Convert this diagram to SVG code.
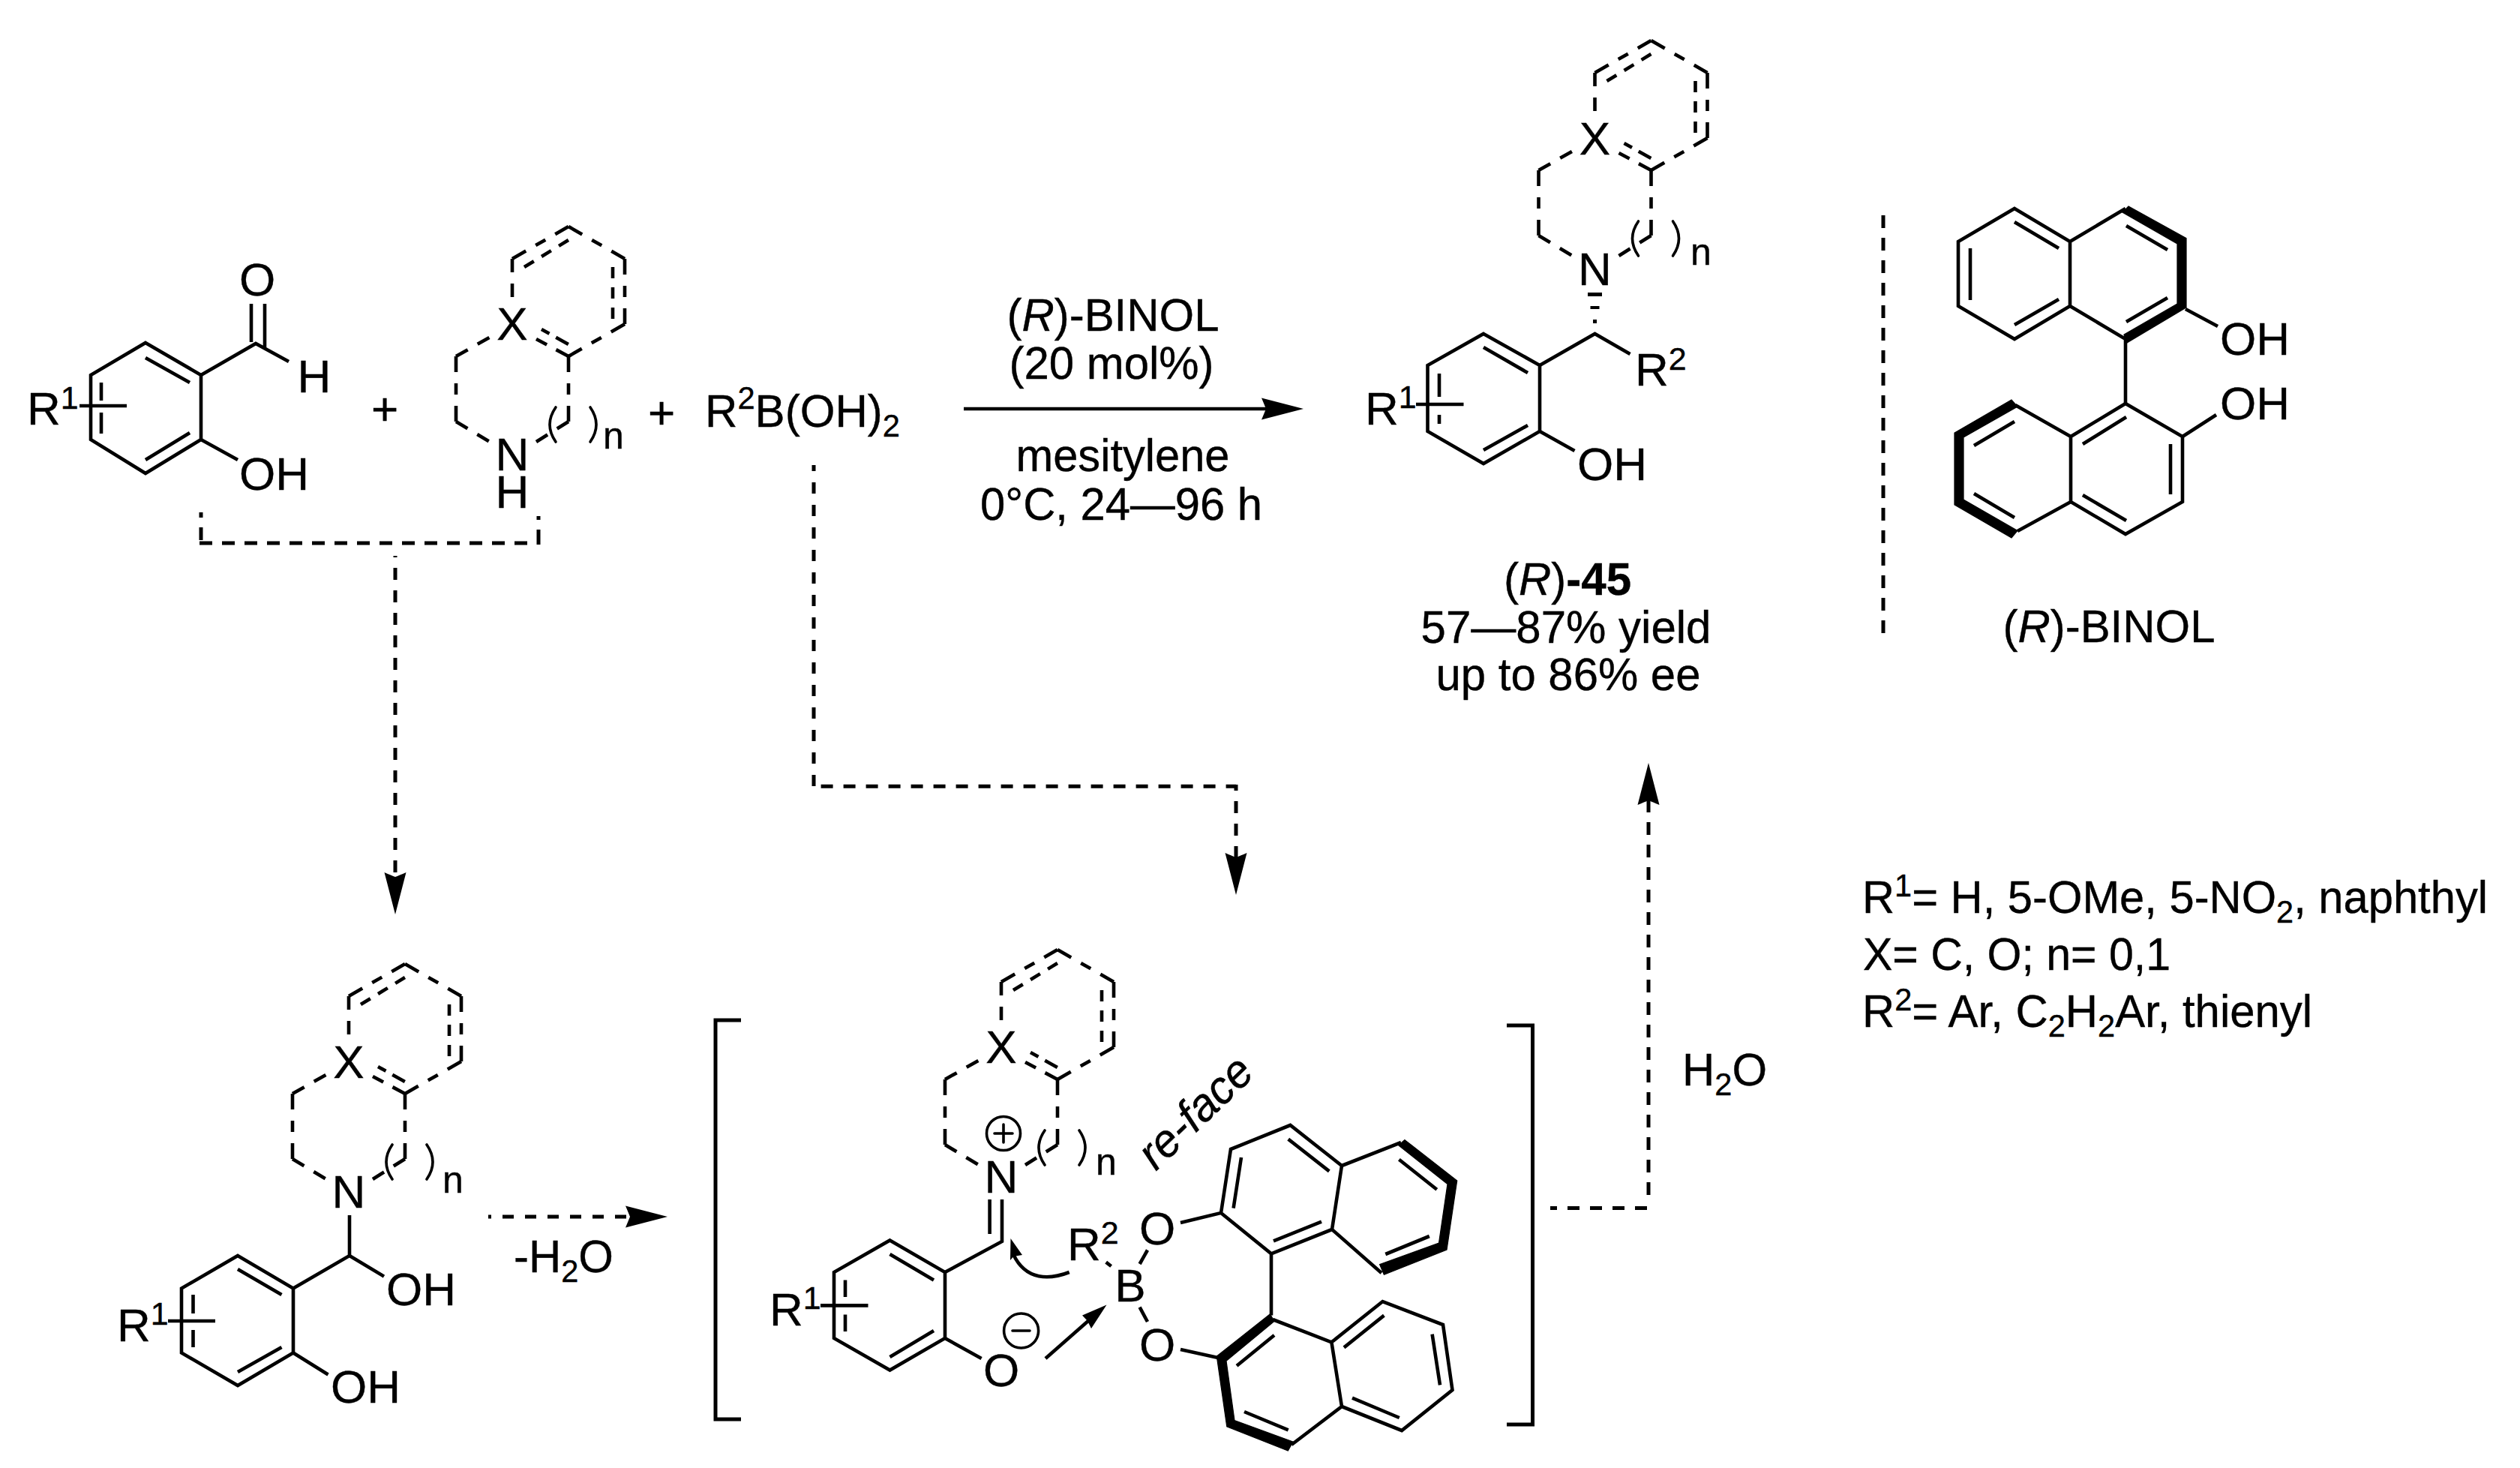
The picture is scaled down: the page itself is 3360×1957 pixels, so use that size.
<svg xmlns="http://www.w3.org/2000/svg" xmlns:xlink="http://www.w3.org/1999/xlink" width="3360" height="1957" viewBox="0 0 3360 1957">
<style>
text{font-family:"Liberation Sans",Arial,sans-serif;font-size:62px;fill:#000;stroke:#000;stroke-width:.4}
.m{text-anchor:middle}
.s{font-size:43px}
.n{font-size:50px}
.i{font-style:italic}
.h{font-weight:bold}
.b{fill:none;stroke:#000;stroke-width:4.6;stroke-linejoin:miter}
.p{fill:none;stroke:#000;stroke-width:3.6;stroke-linecap:round}
.f{fill:#000;stroke:none}
.w{fill:#000;stroke:#000;stroke-width:1.2}
.d3{stroke-dasharray:21 15 15 15 21}
.d2{stroke-dasharray:18 15 18}
.di{stroke-dasharray:15 12 15 12 15}
.c{fill:none;stroke:#000;stroke-width:5}
</style>
<defs>
<marker id="ah" markerUnits="userSpaceOnUse" markerWidth="60" markerHeight="30" refX="6" refY="15" orient="auto" overflow="visible">
<path d="M56,15 L0,0.5 Q4,10 6,15 Q4,20 0,29.5 Z" fill="#000"/>
</marker>
<g id="core">
<path class="b d3" d="M0,-87 L75,-130"/>
<path class="b d3" d="M75,-130 L150,-87"/>
<path class="b d3" d="M150,-87 V0"/>
<path class="b d3" d="M150,0 L75,43"/>
<path class="b d3" d="M75,43 V130"/>
<path class="b d3" d="M-75,43 V130"/>
<path class="b d2" d="M0,-87 V-30"/>
<path class="b d2" d="M-75,43 L-29,17"/>
<path class="b d2" d="M-75,130 L-30,157"/>
<path class="b d2" d="M75,130 L32,157"/>
<path class="b" style="stroke-dasharray:16 14 19" d="M32,20 L75,43"/>
<path class="b" style="stroke-dasharray:12 10 19" d="M39,7 L75,27"/>
<path class="b di" d="M16,-76 L75,-112"/>
<path class="b di" d="M134,-76 V-7"/>
<path class="p" d="M58,111 Q42,134 58,157"/>
<path class="p" d="M104,111 Q120,134 104,157"/>
</g>
</defs>

<g id="connectors">
<path class="b" style="stroke-width:4.4" d="M1285,545 H1688" marker-end="url(#ah)"/>
<path class="c" style="stroke-dasharray:17 13;stroke-dashoffset:10" d="M268,683 V724"/>
<path class="c" style="stroke-dasharray:17 13" d="M266,724 H716"/>
<path class="c" style="stroke-dasharray:20 13 7" d="M718,726 V688"/>
<path class="c" style="stroke-dasharray:16 14;stroke-dashoffset:14" d="M527,741 V1169" marker-end="url(#ah)"/>
<path class="c" style="stroke-dasharray:15 15" d="M1085,1048 V620"/>
<path class="c" style="stroke-dasharray:16 14" d="M1094.6,1048.3 H1648"/>
<path class="c" style="stroke-dasharray:8 14 16 14 16 14 30" d="M1648,1046 V1143" marker-end="url(#ah)"/>
<path class="c" style="stroke-dasharray:15 15;stroke-dashoffset:11" d="M651,1622 H840" marker-end="url(#ah)"/>
<path class="c" style="stroke-dasharray:16 14;stroke-dashoffset:7" d="M2067,1610.4 H2198"/>
<path class="c" style="stroke-dasharray:17 13" d="M2198,1593 V1067" marker-end="url(#ah)"/>
</g>

<g id="salicylaldehyde">
<path class="b" d="M194,457 L268,500 V586 L194,631 L121,586 V500 Z"/>
<path class="b" d="M194,477 L253,510 M253,577 L194,613 M135,510 V534 M135,550 V578"/>
<path class="b" d="M106,541 H169 M268,500 L341,458 L385,482 M335,405 V456 M353,405 V464 M268,586 L317,613"/>
<text x="343" y="394" class="m">O</text>
<text x="419" y="523" class="m">H</text>
<text x="319" y="653">OH</text>
<text x="36" y="566">R<tspan class="s" dy="-21">1</tspan></text>
</g>
<g id="plus-1"><text x="513" y="566" class="m">+</text></g>

<g id="amine">
<use xlink:href="#core" href="#core" transform="translate(683,432)"/>
<text x="683" y="453" class="m">X</text>
<text x="683" y="627" class="m">N<tspan x="683" dy="50">H</tspan></text>
<text x="804" y="598" class="n">n</text>
</g>
<g id="plus-2"><text x="882" y="571" class="m">+</text></g>

<g id="boronic-acid">
<text x="940" y="569" textLength="260" lengthAdjust="spacingAndGlyphs">R<tspan class="s" dy="-24">2</tspan><tspan dy="24">B(OH)</tspan><tspan class="s" dy="13">2</tspan></text>
</g>

<g id="conditions">
<text x="1484" y="441" class="m" textLength="283" lengthAdjust="spacingAndGlyphs">(<tspan class="i">R</tspan>)-BINOL</text>
<text x="1482" y="505" class="m" textLength="273" lengthAdjust="spacingAndGlyphs">(20 mol%)</text>
<text x="1497" y="628" class="m" textLength="285" lengthAdjust="spacingAndGlyphs">mesitylene</text>
<text x="1495" y="693" class="m" textLength="376" lengthAdjust="spacingAndGlyphs">0°C, 24—96 h</text>
</g>

<g id="product">
<use xlink:href="#core" href="#core" transform="translate(2126.5,184)"/>
<text x="2126.5" y="206" class="m">X</text>
<text x="2126.5" y="380" class="m">N</text>
<text x="2254" y="353" class="n">n</text>
<path class="f" d="M2117,390 H2136 V395 H2117 Z M2120.5,408 H2132.5 V412 H2120.5 Z M2124,426 H2129 V431 H2124 Z"/>
<path class="b" d="M1978,445 L2053,487 V575 L1978,618 L1903.5,575 V487 Z"/>
<path class="b" d="M1978,463 L2037,497 M1978,600 L2037,567 M1919,498 V529 M1919,553 V565"/>
<path class="b" d="M1888,539 H1951.5 M2053,487 L2126.5,445 L2173.5,472 M2053,575 L2099.5,601"/>
<text x="2103" y="640">OH</text>
<text x="2180" y="514">R<tspan class="s" dy="-21">2</tspan></text>
<text x="1820" y="566">R<tspan class="s" dy="-22">1</tspan></text>
</g>

<g id="product-label">
<text x="2090" y="793" class="m" textLength="170" lengthAdjust="spacingAndGlyphs">(<tspan class="i">R</tspan>)<tspan class="h">-45</tspan></text>
<text x="2088" y="857" class="m" textLength="387" lengthAdjust="spacingAndGlyphs">57—87% yield</text>
<text x="2091" y="920" class="m" textLength="353" lengthAdjust="spacingAndGlyphs">up to 86% ee</text>
</g>

<g id="divider"><path class="c" style="stroke-dasharray:17 13" d="M2511,287 V844"/></g>

<g id="binol">
<path class="b" d="M2686,278 L2760,322 V408 L2686,452 L2611,408 V322 Z M2760,322 L2834,278 M2760,408 L2834,452 V538"/>
<path class="w" d="M2838,275 L2915,317.5 V410 L2835,457.5 L2832,446 L2903,405 V325 L2830,283 Z"/>
<path class="b" d="M2686,296 L2745,331 M2627,331 V400 M2686,433 L2745,399 M2835,301 L2890,333 M2835,429 L2890,397"/>
<path class="b" d="M2914,412 L2957,435 M2910,582 L2955,553"/>
<path class="b" d="M2761,582 L2834,538 L2910,582 V669 L2834,712 L2761,669 Z M2761,582 L2687,540 M2761,669 L2690,708"/>
<path class="w" d="M2682,533 L2606,577 V673 L2682,717 L2690,707.5 L2618,666 V583 L2690,542 Z"/>
<path class="b" d="M2777,592 L2835,556 M2894,592 V659 M2777,660 L2835,694 M2632,594 L2686,562 M2632,658 L2686,690"/>
<text x="2960" y="473">OH</text>
<text x="2960" y="559">OH</text>
<text x="2812" y="856" class="m" textLength="283" lengthAdjust="spacingAndGlyphs">(<tspan class="i">R</tspan>)-BINOL</text>
</g>

<g id="aminal">
<use xlink:href="#core" href="#core" transform="translate(465,1415)"/>
<text x="465" y="1436.5" class="m">X</text>
<text x="465" y="1610" class="m">N</text>
<text x="590" y="1590" class="n">n</text>
<path class="b" d="M317,1674 L391,1717.5 V1803.5 L317,1847 L242,1803.5 V1717.5 Z"/>
<path class="b" d="M317,1692 L375.5,1726 M317,1829 L375.5,1796 M257.5,1726 V1751 M257.5,1773 V1796"/>
<path class="b" d="M224,1761 H287 M391,1717.5 L466,1674 V1620 M466,1674 L512,1701.6 M391,1803.5 L437.5,1832.5"/>
<text x="515" y="1740">OH</text>
<text x="441" y="1870">OH</text>
<text x="156" y="1788">R<tspan class="s" dy="-22">1</tspan></text>
</g>
<g id="minus-water"><text x="685" y="1696" textLength="133" lengthAdjust="spacingAndGlyphs">-H<tspan class="s" dy="13">2</tspan><tspan dy="-13">O</tspan></text></g>

<g id="brackets">
<path class="b" style="stroke-width:5" d="M988,1360 H954 V1892 H988"/>
<path class="b" style="stroke-width:5" d="M2009,1367 H2043.5 V1899 H2009"/>
</g>

<g id="iminium">
<use xlink:href="#core" href="#core" transform="translate(1335,1396)"/>
<text x="1335" y="1417" class="m">X</text>
<text x="1335" y="1590" class="m">N</text>
<text x="1461" y="1566" class="n">n</text>
<circle class="p" cx="1338" cy="1511" r="22.5"/>
<path class="p" d="M1326,1511 H1350 M1338,1499 V1523"/>
<path class="b" d="M1186.5,1653.5 L1260,1696 V1784 L1186.5,1826.5 L1112,1784 V1696 Z"/>
<path class="b" d="M1186.5,1672 L1245,1706.5 M1186.5,1809 L1245,1774 M1127,1706.5 V1729 M1127,1752.6 V1775"/>
<path class="b" d="M1094,1740.4 H1157.5 M1260,1696 L1336,1655 V1599 M1319.6,1599 V1645 M1260,1784 L1308.6,1811"/>
<text x="1335" y="1848" class="m">O</text>
<circle class="p" cx="1361.6" cy="1774" r="23"/>
<path class="p" d="M1350,1774 H1373"/>
<text x="1026" y="1766.5">R<tspan class="s" dy="-22">1</tspan></text>
<path class="b" d="M1425.7,1696 C1400,1706 1368,1708 1351,1672"/>
<path class="f" d="M1347.5,1651 L1347,1680 L1351.4,1675 L1363,1673 Z"/>
<path class="b" d="M1394,1811 L1452,1760"/>
<path class="f" d="M1475.5,1739.6 L1443,1753.5 L1450,1761 L1455,1771 Z"/>
<text x="1423" y="1680">R<tspan class="s" dy="-22">2</tspan></text>
<path class="b" d="M1474.7,1682.6 L1481.6,1688 M1530,1666.5 L1519.6,1685 M1519.6,1742.6 L1530,1762"/>
<text x="1507" y="1735" class="m">B</text>
<text x="1543" y="1659" class="m">O</text>
<text x="1543" y="1814" class="m">O</text>
<text x="1541" y="1562" class="i" textLength="186" lengthAdjust="spacingAndGlyphs" transform="rotate(-44 1541 1562)">re-face</text>
</g>

<g id="boronate-binaphthyl">
<path class="b" d="M1574,1630 L1628,1617 L1641,1532 L1720.4,1500 L1789,1554 L1776,1639 L1695,1671.4 L1628,1617 M1789,1554 L1868,1523 M1776,1639 L1842,1697 M1695,1671.4 V1753.6"/>
<path class="w" d="M1873,1519.6 L1942.7,1574 L1929,1666 L1845.4,1699.3 L1839.6,1685.7 L1918.5,1657 L1930,1578.6 L1864.6,1526.8 Z"/>
<path class="b" d="M1655,1543 L1644.6,1610.7 M1717.7,1518.6 L1772.3,1561.4 M1762,1628.6 L1698,1654.3 M1865.4,1545.7 L1915.8,1585.7 M1905.8,1648 L1847.3,1672"/>
<path class="b" d="M1574,1799 L1624,1810 M1697,1759 L1775.4,1789.3 L1789,1875 L1722,1926 M1775.4,1789.3 L1843.5,1735 L1924,1766 L1936.5,1853 L1869,1907 L1789,1875"/>
<path class="w" d="M1693.5,1751.8 L1622.3,1808 L1635.8,1901.8 L1717.3,1934 L1724,1922 L1646,1893.6 L1635,1814.3 L1699,1761.4 Z"/>
<path class="b" d="M1699,1780 L1649,1820.7 M1659,1882 L1717.7,1906.4 M1845.4,1753.6 L1792,1796.4 M1909.6,1778.6 L1920,1846.4 M1803,1863.6 L1865.8,1890"/>
</g>

<g id="water"><text x="2243" y="1447" textLength="113" lengthAdjust="spacingAndGlyphs">H<tspan class="s" dy="13">2</tspan><tspan dy="-13">O</tspan></text></g>

<g id="substituents">
<text x="2483" y="1217" textLength="834" lengthAdjust="spacingAndGlyphs">R<tspan class="s" dy="-22">1</tspan><tspan dy="22">= H, 5-OMe, 5-NO</tspan><tspan class="s" dy="13">2</tspan><tspan dy="-13">, naphthyl</tspan></text>
<text x="2484" y="1293" textLength="410" lengthAdjust="spacingAndGlyphs">X= C, O; n= 0,1</text>
<text x="2483" y="1369" textLength="600" lengthAdjust="spacingAndGlyphs">R<tspan class="s" dy="-22">2</tspan><tspan dy="22">= Ar, C</tspan><tspan class="s" dy="13">2</tspan><tspan dy="-13">H</tspan><tspan class="s" dy="13">2</tspan><tspan dy="-13">Ar, thienyl</tspan></text>
</g>
</svg>
